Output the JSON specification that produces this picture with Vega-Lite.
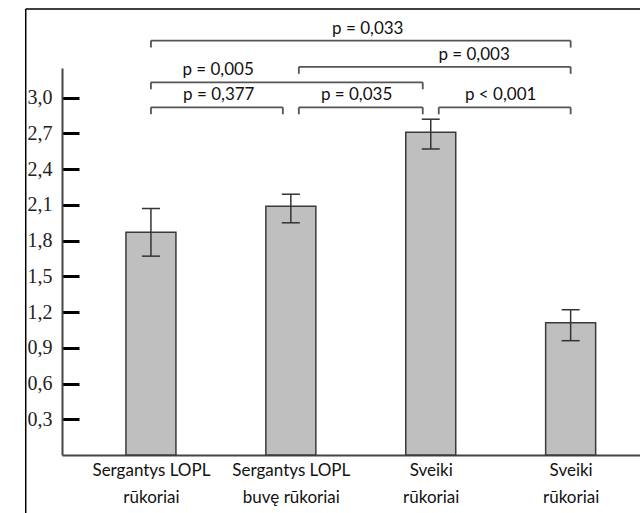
{
  "$schema": "https://vega.github.io/schema/vega-lite/v6.json",
  "width": 578,
  "height": 387,
  "autosize": "none",
  "padding": {"left": 62, "top": 68, "right": 0, "bottom": 58},
  "background": "white",
  "config": {"view": {"stroke": null}},
  "datasets": {
    "bars": [
      {"idx": 1, "group": "Sergantys LOPL rūkoriai", "mean": 1.87, "low": 1.67, "high": 2.07},
      {"idx": 2, "group": "Sergantys LOPL buvę rūkoriai", "mean": 2.09, "low": 1.95, "high": 2.19},
      {"idx": 3, "group": "Sveiki rūkoriai", "mean": 2.71, "low": 2.57, "high": 2.82},
      {"idx": 4, "group": "Sveiki rūkoriai (2)", "mean": 1.11, "low": 0.96, "high": 1.22}
    ],
    "brackets": [
      {"from": 1, "to": 2, "level": 2.92, "label": "p = 0,377", "lx": 1.485},
      {"from": 2, "to": 3, "level": 2.92, "label": "p = 0,035", "lx": 2.47},
      {"from": 3, "to": 4, "level": 2.92, "label": "p < 0,001", "lx": 3.5},
      {"from": 1, "to": 3, "level": 3.13, "label": "p = 0,005", "lx": 1.48},
      {"from": 2, "to": 4, "level": 3.26, "label": "p = 0,003", "lx": 3.31},
      {"from": 1, "to": 4, "level": 3.48, "label": "p = 0,033", "lx": 2.55}
    ]
  },
  "layer": [
    {
      "data": {"name": "bars"},
      "mark": {"type": "bar", "size": 50, "fill": "#bfbfbf", "stroke": "#3a3a3a", "strokeWidth": 1.5},
      "encoding": {
        "x": {
          "field": "idx", "type": "quantitative",
          "scale": {"domain": [0.4, 4.46], "nice": false, "zero": false},
          "axis": {
            "title": null, "values": [1, 2, 3, 4], "ticks": false, "grid": false,
            "domainColor": "#444", "domainWidth": 2,
            "labelFont": "Lato", "labelFontSize": 17, "labelColor": "#111",
            "labelPadding": 7, "labelBaseline": "top", "labelLineHeight": 27,
            "labelExpr": "datum.value == 1 ? ['Sergantys LOPL', 'rūkoriai'] : datum.value == 2 ? ['Sergantys LOPL', 'buvę rūkoriai'] : ['Sveiki', 'rūkoriai']"
          }
        },
        "y": {
          "field": "mean", "type": "quantitative",
          "scale": {"domain": [0, 3.25], "nice": false, "zero": false},
          "axis": {
            "title": null, "values": [0.3, 0.6, 0.9, 1.2, 1.5, 1.8, 2.1, 2.4, 2.7, 3.0],
            "grid": false, "tickSize": -17, "tickWidth": 3, "tickColor": "#000",
            "labelPadding": 27, "labelFont": "Liberation Serif", "labelFontSize": 20, "labelColor": "#222",
            "domainColor": "#444", "domainWidth": 2,
            "labelExpr": "replace(format(datum.value, '.1f'), '.', ',')"
          }
        }
      }
    },
    {
      "data": {"name": "bars"},
      "mark": {"type": "rule", "stroke": "#333", "strokeWidth": 1.5},
      "encoding": {
        "x": {"field": "idx", "type": "quantitative"},
        "y": {"field": "low", "type": "quantitative"},
        "y2": {"field": "high"}
      }
    },
    {
      "data": {"name": "bars"},
      "mark": {"type": "tick", "orient": "horizontal", "size": 18, "thickness": 1.5, "color": "#333", "opacity": 1},
      "encoding": {
        "x": {"field": "idx", "type": "quantitative"},
        "y": {"field": "low", "type": "quantitative"}
      }
    },
    {
      "data": {"name": "bars"},
      "mark": {"type": "tick", "orient": "horizontal", "size": 18, "thickness": 1.5, "color": "#333", "opacity": 1},
      "encoding": {
        "x": {"field": "idx", "type": "quantitative"},
        "y": {"field": "high", "type": "quantitative"}
      }
    },
    {
      "data": {"name": "brackets"},
      "mark": {
        "type": "rule", "stroke": "#555", "strokeWidth": 1.8,
        "xOffset": {"expr": "(datum.from == 2 || datum.from == 3) ? 8 : 0"},
        "x2Offset": {"expr": "(datum.to == 2 || datum.to == 3) ? -8 : 0"}
      },
      "encoding": {
        "x": {"field": "from", "type": "quantitative"},
        "x2": {"field": "to"},
        "y": {"field": "level", "type": "quantitative"}
      }
    },
    {
      "data": {"name": "brackets"},
      "mark": {
        "type": "rule", "stroke": "#555", "strokeWidth": 1.8, "y2Offset": 7,
        "xOffset": {"expr": "(datum.from == 2 || datum.from == 3) ? 8 : 0"}
      },
      "encoding": {
        "x": {"field": "from", "type": "quantitative"},
        "y": {"field": "level", "type": "quantitative"},
        "y2": {"field": "level"}
      }
    },
    {
      "data": {"name": "brackets"},
      "mark": {
        "type": "rule", "stroke": "#555", "strokeWidth": 1.8, "y2Offset": 7,
        "xOffset": {"expr": "(datum.to == 2 || datum.to == 3) ? -8 : 0"}
      },
      "encoding": {
        "x": {"field": "to", "type": "quantitative"},
        "y": {"field": "level", "type": "quantitative"},
        "y2": {"field": "level"}
      }
    },
    {
      "data": {"name": "brackets"},
      "mark": {"type": "text", "font": "Lato", "fontSize": 17, "color": "#111", "baseline": "middle", "dy": -12},
      "encoding": {
        "x": {"field": "lx", "type": "quantitative"},
        "y": {"field": "level", "type": "quantitative"},
        "text": {"field": "label"}
      }
    },
    {
      "data": {"values": [{}]},
      "mark": {"type": "rule", "stroke": "#000", "strokeWidth": 1.5},
      "encoding": {
        "x": {"datum": 0.105, "type": "quantitative"},
        "y": {"datum": -0.6, "type": "quantitative"},
        "y2": {"datum": 3.745}
      }
    },
    {
      "data": {"values": [{}]},
      "mark": {"type": "rule", "stroke": "#000", "strokeWidth": 1.5},
      "encoding": {
        "x": {"datum": 0.105, "type": "quantitative"},
        "x2": {"datum": 4.7},
        "y": {"datum": 3.745, "type": "quantitative"}
      }
    }
  ]
}
